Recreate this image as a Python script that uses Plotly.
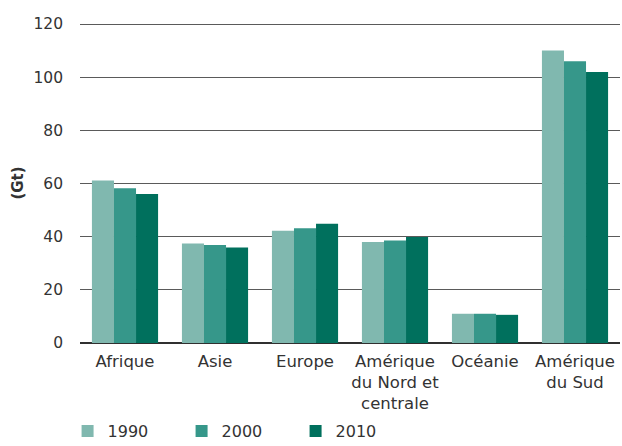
import plotly.graph_objects as go

categories = ["Afrique", "Asie", "Europe", "Amérique<br>du Nord et<br>centrale", "Océanie", "Amérique<br>du Sud"]
years = ["1990", "2000", "2010"]
v1990 = [61.1, 37.4, 42.2, 38.0, 11.0, 110.1]
v2000 = [58.2, 36.9, 43.2, 38.6, 11.0, 106.0]
v2010 = [56.1, 35.9, 44.9, 39.9, 10.6, 102.0]
colors = ["#80b8af", "#36978a", "#00705d"]
y_ticks = [0, 20, 40, 60, 80, 100, 120]

FONT = "DejaVu Sans"
fig = go.Figure()
for name, vals, c in zip(years, [v1990, v2000, v2010], colors):
    fig.add_trace(go.Bar(x=categories, y=vals, name=name, marker=dict(color=c, line=dict(width=0))))

fig.update_layout(
    width=622, height=446,
    margin=dict(l=80, r=2, t=23, b=103, autoexpand=False),
    paper_bgcolor="white", plot_bgcolor="white",
    barmode="group", bargap=0.265, bargroupgap=0,
    font=dict(family=FONT, size=16, color="#333333"),
    showlegend=True,
    legend=dict(orientation="h", x=-0.023, xanchor="left", y=-0.275, yanchor="middle",
                font=dict(size=16, color="#333333"), entrywidth=69, entrywidthmode="pixels",
                traceorder="normal"),
    xaxis=dict(showgrid=False, showline=False, ticks="", tickfont=dict(size=16.5),
               ticklabelstandoff=6, automargin=False),
    yaxis=dict(range=[0, 120.4], tickvals=y_ticks, showgrid=True, gridcolor="#5a5a5a", gridwidth=1.2,
               zeroline=True, zerolinecolor="#303030", zerolinewidth=1.5, automargin=False,
               showline=False, ticks="", ticklabelstandoff=16, tickfont=dict(size=15.5),
               title=dict(text="<b>(Gt)</b>", font=dict(size=15, color="#333333"), standoff=6)),
)
fig.write_html("out.html", config={"displayModeBar": False},
               post_script="document.body.style.margin='0';document.body.style.overflow='hidden';")
